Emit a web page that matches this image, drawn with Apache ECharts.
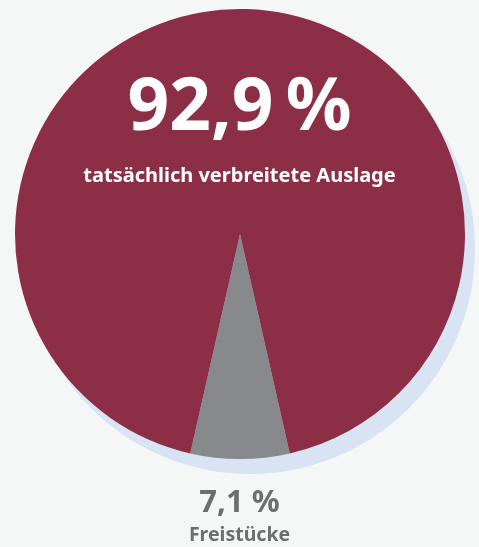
<!DOCTYPE html>
<html><head><meta charset="utf-8">
<script src="https://cdn.jsdelivr.net/npm/echarts@6/dist/echarts.min.js"></script>
<style>html,body{margin:0;padding:0;background:#f5f7f6}#c{width:479px;height:547px}</style>
</head><body><div id="c"></div>
<script>
const categories = ['Freistücke', 'tatsächlich verbreitete Auslage'];
const values = [7.1, 92.9];
const valueLabels = ['7,1 %', '92,9 %'];
const colors = ['#88898c', '#8c2f46'];

const chart = echarts.init(document.getElementById('c'), null, {renderer: 'canvas'});
const total = values.reduce((a, b) => a + b, 0);
const startAngle = -90 + (values[0] / total) * 360 / 2;
const font = '"Noto Sans", "Open Sans", sans-serif';

chart.setOption({
  backgroundColor: '#f5f7f6',
  animation: false,
  series: [
    {
      type: 'pie', silent: true, center: [250, 249], radius: 225,
      label: {show: false}, labelLine: {show: false}, z: 1,
      data: [{value: total, itemStyle: {color: '#d8e3f3'}}]
    },
    {
      type: 'pie', silent: true, center: [240, 234], radius: 225,
      startAngle: startAngle, clockwise: true, z: 2,
      label: {show: false}, labelLine: {show: false},
      data: categories.map((c, i) => ({name: c, value: values[i], itemStyle: {color: colors[i]}}))
    }
  ],
  graphic: [
    {type: 'text', left: 'center', top: 73, z: 10,
     style: {text: valueLabels[1].replace(' ', '\u2009'), fill: '#ffffff', font: 'bold 73px ' + font}},
    {type: 'text', left: 'center', top: 166, z: 10,
     style: {text: categories[1], fill: '#ffffff', font: 'bold 20px ' + font}},
    {type: 'text', left: 'center', top: 488, z: 10,
     style: {text: valueLabels[0], fill: '#6d6e70', font: 'bold 31px ' + font}},
    {type: 'text', left: 'center', top: 525, z: 10,
     style: {text: categories[0], fill: '#6d6e70', font: 'bold 19.5px ' + font}}
  ]
});
</script></body></html>
